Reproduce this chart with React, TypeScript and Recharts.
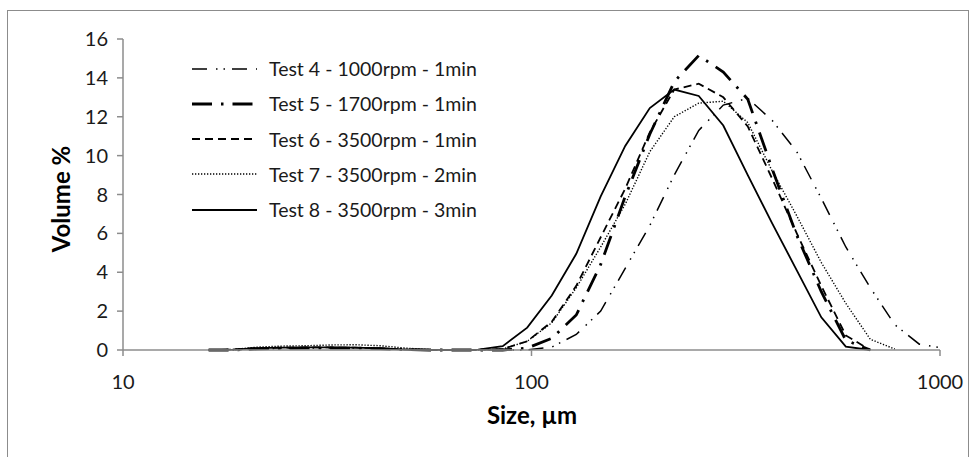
import React from 'react';
import { LineChart, Line, XAxis, YAxis, Legend, Label } from 'recharts';

// Particle size classes (µm)
const sizes = [
  16.2, 18.6, 21.36, 24.52, 28.15, 32.33, 37.12, 42.62, 48.93, 56.18, 64.5,
  74.06, 85.03, 97.61, 112.1, 128.7, 147.7, 169.6, 194.8, 223.6, 256.7, 294.8,
  338.4, 388.6, 446.1, 512.2, 588.1, 675.2, 775.2, 890.0, 1000,
];

// Volume % per size class for each test
const test4 = [
  0, 0, 0.05, 0.08, 0.1, 0.1, 0.1, 0.07, 0.03, 0, 0, 0, 0, 0, 0.15, 0.8, 2.0,
  4.2, 6.4, 9.0, 11.3, 12.6, 12.95, 11.8, 10.2, 7.8, 5.3, 3.2, 1.3, 0.3, 0.12,
];
const test5 = [
  0, 0, 0.06, 0.08, 0.1, 0.1, 0.1, 0.07, 0.02, 0, 0, 0, 0, 0.1, 0.6, 1.8, 4.4,
  7.9, 11.1, 13.8, 15.15, 14.3, 12.9, 9.3, 5.9, 3.0, 0.5, 0,
];
const test6 = [
  0, 0.02, 0.1, 0.12, 0.13, 0.13, 0.12, 0.08, 0.03, 0, 0, 0, 0.05, 0.45, 1.45,
  3.3, 5.8, 8.3, 11.2, 13.4, 13.7, 13.0, 11.5, 8.8, 6.0, 3.3, 0.75, 0,
];
const test7 = [
  0, 0.03, 0.15, 0.2, 0.22, 0.26, 0.27, 0.22, 0.1, 0.02, 0, 0, 0.05, 0.45, 1.4,
  3.2, 5.3, 7.5, 10.2, 12.0, 12.7, 12.8, 11.7, 9.2, 6.9, 4.5, 2.4, 0.55, 0.05,
];
const test8 = [
  0, 0.02, 0.1, 0.12, 0.13, 0.13, 0.12, 0.08, 0.02, 0.01, 0.01, 0.02, 0.2, 1.15,
  2.8, 4.95, 7.9, 10.5, 12.45, 13.4, 13.07, 11.55, 9.0, 6.5, 4.1, 1.68, 0.17, 0,
];

const seriesNames = [
  'Test 4 - 1000rpm - 1min',
  'Test 5 - 1700rpm - 1min',
  'Test 6 - 3500rpm - 1min',
  'Test 7 - 3500rpm - 2min',
  'Test 8 - 3500rpm - 3min',
];

const xTicks = [10, 100, 1000];
const yTicks = [0, 2, 4, 6, 8, 10, 12, 14, 16];

const seriesValues = [test4, test5, test6, test7, test8];
const seriesKeys = ['t4', 't5', 't6', 't7', 't8'];

const data = sizes.map((size, i) => {
  const row: Record<string, number | null> = { size };
  seriesKeys.forEach((k, s) => {
    const v = seriesValues[s][i];
    row[k] = v === undefined ? null : v;
  });
  return row;
});

const lineStyles = [
  { dash: '15 9 1.5 6 1.5 7', width: 1.5 },
  { dash: '20 9 2.5 9', width: 2.8 },
  { dash: '8 5', width: 1.8 },
  { dash: '1.3 1.7', width: 1.4 },
  { dash: undefined as string | undefined, width: 1.8 },
];

const FONT = 'Lato, "Liberation Sans", sans-serif';
const AXIS_GRAY = '#8c8c8c';

const LegendBox = () => (
  <div style={{ fontFamily: FONT, fontSize: 19.5, color: '#1a1a1a' }}>
    {seriesNames.map((name, i) => (
      <div key={name} style={{ height: 35.25, display: 'flex', alignItems: 'center' }}>
        <svg width={66} height={12} style={{ display: 'block' }}>
          <line
            x1={0}
            y1={6}
            x2={65}
            y2={6}
            stroke="#000"
            strokeWidth={lineStyles[i].width}
            strokeDasharray={lineStyles[i].dash}
          />
        </svg>
        <span style={{ marginLeft: 11, whiteSpace: 'nowrap' }}>{name}</span>
      </div>
    ))}
  </div>
);

export default function App() {
  return (
    <div style={{ position: 'absolute', left: 0, top: 0, width: 978, height: 457, background: '#fff', overflow: 'hidden' }}>
      <div
        style={{
          position: 'absolute',
          left: 7,
          top: 10,
          width: 962,
          height: 460,
          border: `1px solid ${AXIS_GRAY}`,
          boxSizing: 'border-box',
        }}
      />
      <div style={{ position: 'absolute', left: 0, top: 0 }}>
        <LineChart
          width={978}
          height={457}
          data={data}
          margin={{ top: 39, right: 38, bottom: 47, left: 23 }}
        >
          <XAxis
            dataKey="size"
            type="number"
            scale="log"
            domain={[10, 1000]}
            ticks={xTicks}
            allowDataOverflow
            height={60}
            axisLine={{ stroke: AXIS_GRAY, strokeWidth: 1.5 }}
            tickLine={{ stroke: AXIS_GRAY, strokeWidth: 1.5 }}
            tickSize={6}
            tickMargin={19}
            tick={{ fill: '#1a1a1a', fontSize: 20, fontFamily: FONT }}
          >
            <Label
              content={() => (
                <text
                  x={532}
                  y={424}
                  textAnchor="middle"
                  fontFamily={FONT}
                  fontWeight="bold"
                  fontSize={24}
                  fill="#000"
                >
                  Size, µm
                </text>
              )}
            />
          </XAxis>
          <YAxis
            type="number"
            domain={[0, 16]}
            ticks={yTicks}
            width={100}
            axisLine={{ stroke: AXIS_GRAY, strokeWidth: 1.5 }}
            tickLine={{ stroke: AXIS_GRAY, strokeWidth: 1.5 }}
            tickSize={6}
            tickMargin={9}
            tick={{ fill: '#1a1a1a', fontSize: 20, fontFamily: FONT }}
          >
            <Label
              content={() => (
                <text
                  x={0}
                  y={0}
                  transform="translate(70,199) rotate(-90)"
                  textAnchor="middle"
                  fontFamily={FONT}
                  fontWeight="bold"
                  fontSize={24}
                  fill="#000"
                >
                  Volume %
                </text>
              )}
            />
          </YAxis>
          <Legend
            layout="vertical"
            align="center"
            verticalAlign="middle"
            wrapperStyle={{ left: 192, top: 51, width: 320, right: 'auto', bottom: 'auto' }}
            content={() => <LegendBox />}
          />
          {seriesKeys.map((k, i) => (
            <Line
              key={k}
              dataKey={k}
              name={seriesNames[i]}
              type="linear"
              stroke="#000"
              strokeWidth={lineStyles[i].width}
              strokeDasharray={lineStyles[i].dash}
              dot={false}
              activeDot={false}
              isAnimationActive={false}
            />
          ))}
        </LineChart>
      </div>
    </div>
  );
}
